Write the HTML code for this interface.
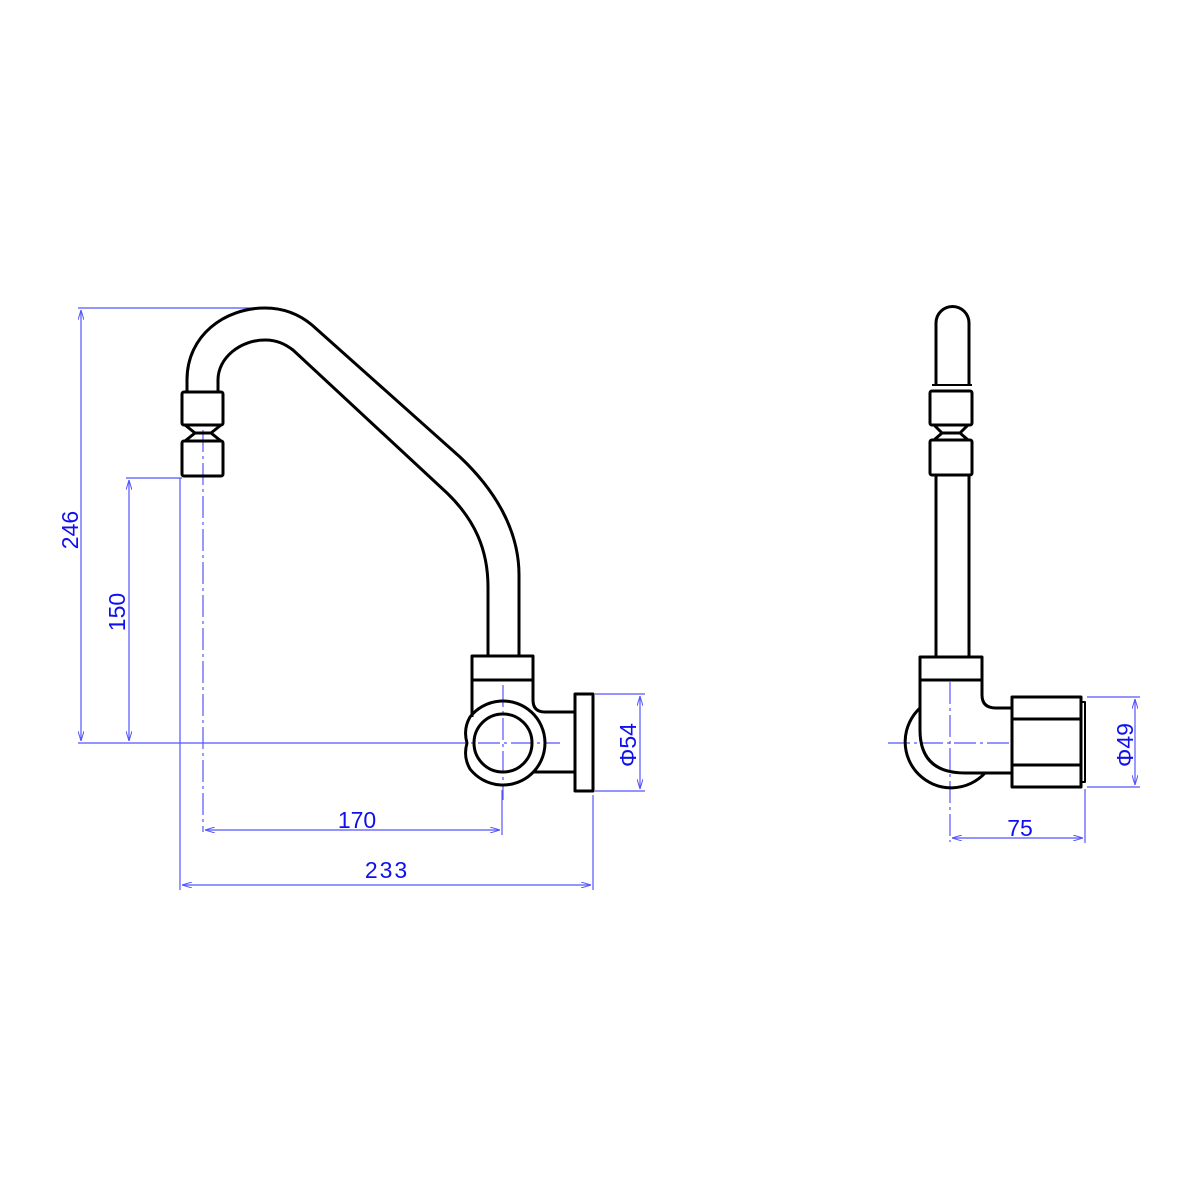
<!DOCTYPE html>
<html><head><meta charset="utf-8"><style>
html,body{margin:0;padding:0;background:#fff}
svg{display:block}
text{font-family:"Liberation Sans",sans-serif;font-size:23px;fill:#1010ee}
</style></head><body>
<svg width="1200" height="1200" viewBox="0 0 1200 1200" xmlns="http://www.w3.org/2000/svg">
<defs>
<marker id="a" markerWidth="10" markerHeight="6" refX="10" refY="3" orient="auto-start-reverse" markerUnits="userSpaceOnUse"><path d="M0,0 L10,3 L0,6" fill="none" stroke="#5555ff" stroke-width="1"/></marker>
</defs>
<g stroke="#5555ff" stroke-width="1.2" fill="none">
<line x1="78" y1="308" x2="255" y2="308"/>
<line x1="81" y1="310" x2="81" y2="741" marker-start="url(#a)" marker-end="url(#a)"/>
<line x1="126" y1="478" x2="182" y2="478"/>
<line x1="129" y1="480" x2="129" y2="741" marker-start="url(#a)" marker-end="url(#a)"/>
<line x1="78" y1="743" x2="445" y2="743"/>
<line x1="180" y1="478" x2="180" y2="890"/>
<line x1="502" y1="790" x2="502" y2="835"/>
<line x1="205" y1="830" x2="500" y2="830" marker-start="url(#a)" marker-end="url(#a)"/>
<line x1="593" y1="795" x2="593" y2="890"/>
<line x1="182" y1="885" x2="591" y2="885" marker-start="url(#a)" marker-end="url(#a)"/>
<line x1="595" y1="694" x2="645" y2="694"/>
<line x1="595" y1="791" x2="645" y2="791"/>
<line x1="640" y1="696" x2="640" y2="789" marker-start="url(#a)" marker-end="url(#a)"/>
<line x1="203" y1="430" x2="203" y2="832" stroke-dasharray="22,4,3,4"/>
<line x1="445" y1="743" x2="560" y2="743" stroke-dasharray="22,4,3,4"/>
<line x1="503" y1="685" x2="503" y2="800" stroke-dasharray="22,4,3,4"/>
<line x1="888" y1="743" x2="1010" y2="743" stroke-dasharray="22,4,3,4"/>
<line x1="950" y1="682" x2="950" y2="842" stroke-dasharray="22,4,3,4"/>
<line x1="1087" y1="697" x2="1140" y2="697"/>
<line x1="1087" y1="787" x2="1140" y2="787"/>
<line x1="1135" y1="699" x2="1135" y2="785" marker-start="url(#a)" marker-end="url(#a)"/>
<line x1="1085" y1="789" x2="1085" y2="843"/>
<line x1="952" y1="838" x2="1083" y2="838" marker-start="url(#a)" marker-end="url(#a)"/>
</g>
<text transform="translate(78,530) rotate(-90)" text-anchor="middle">246</text>
<text transform="translate(125,612) rotate(-90)" text-anchor="middle">150</text>
<text x="357" y="828" text-anchor="middle">170</text>
<text x="387" y="878" text-anchor="middle" letter-spacing="2">233</text>
<text transform="translate(636,745) rotate(-90)" text-anchor="middle">Φ54</text>
<text transform="translate(1133,745) rotate(-90)" text-anchor="middle">Φ49</text>
<text x="1020" y="836" text-anchor="middle">75</text>

<g stroke="#000" stroke-width="3" fill="none" stroke-linejoin="round">
<path d="M187,392 L187,380 C187,335 225,308 265,308 C285,308 300,315 312,325 L460,457 C495,490 519,530 519,575 L519,656"/>
<path d="M218,392 L218,380 C218,358 240,340 265,340 C277,340 285,344 293,350 L447,493 C475,520 488,550 488,587 L488,656"/>
<rect x="182" y="392" width="41" height="33" rx="2"/>
<path d="M185,425 L195,433 L211,433 L221,425 M185,441 L195,433 M221,441 L211,433"/>
<rect x="182" y="441" width="41" height="35" rx="2"/>
<rect x="472" y="656" width="61" height="24"/>
<line x1="472" y1="680" x2="472" y2="717"/>
<path d="M533,680 L533,700 Q533,712 545,712 L575,712"/>
<path d="M533,772 L575,772"/>
<path d="M470,717 A42,42 0 1 1 470,769 Q463,757 467,743 Q463,729 470,717 Z"/>
<circle cx="503" cy="743" r="29"/>
<rect x="575" y="694" width="18" height="97"/>
<path d="M936,385 L936,323 A16.5,16.5 0 0 1 969,323 L969,385"/>
<path d="M932,385 L972,385" stroke-width="2"/>
<rect x="930" y="391" width="42" height="34" rx="2"/>
<path d="M934,425 L942,433 L960,433 L968,425 M934,440 L942,433 M968,440 L960,433"/>
<rect x="930" y="440" width="42" height="35" rx="2"/>
<line x1="936" y1="475" x2="936" y2="657"/>
<line x1="969" y1="475" x2="969" y2="657"/>
<rect x="920" y="657" width="62" height="23"/>
<path d="M920,680 L920,730 Q920,773 965,773 L1012,773"/>
<path d="M982,680 L982,695 Q982,708 996,708 L1012,708"/>
<path d="M920,708 A46,46 0 1 0 985,773"/>
<rect x="1012" y="697" width="69" height="90"/>
<line x1="1012" y1="719" x2="1081" y2="719"/>
<line x1="1012" y1="765" x2="1081" y2="765"/>
<rect x="1081" y="702" width="4" height="80" stroke-width="2"/>
</g>
</svg>
</body></html>
